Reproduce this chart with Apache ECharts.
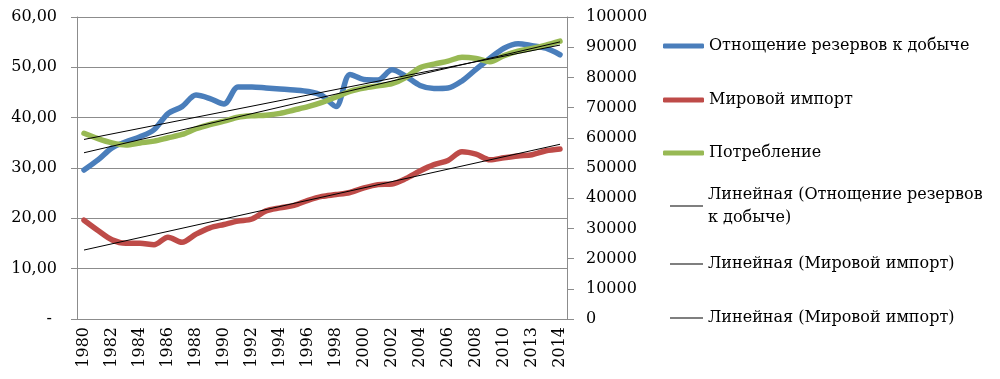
<!DOCTYPE html>
<html>
<head>
<meta charset="utf-8">
<script src="https://cdn.jsdelivr.net/npm/echarts@6/dist/echarts.min.js"></script>
<style>
html,body{margin:0;padding:0;background:#fff;}
#chart{width:1000px;height:379px;}
</style>
</head>
<body>
<div id="chart"></div>
<script>
// Categories (year labels as printed on the axis; every other one is shown)
const years = ["1980","1981","1982","1983","1984","1985","1986","1987","1988","1989",
  "1990","1991","1992","1993","1994","1995","1996","1997","1998","1999",
  "2000","2001","2002","2003","2004","2005","2006","2007","2008","2009",
  "2010","2011","2013","2013","2014"];

// Отнощение резервов к добыче (left axis, years)
const reservesRatio = [29.6,31.6,34.0,35.2,36.2,37.6,40.8,42.2,44.5,43.8,
  42.7,46.1,46.1,45.9,45.7,45.5,45.2,44.4,42.2,48.6,
  47.6,47.5,49.5,48.2,46.4,45.8,45.9,47.3,49.6,51.8,
  53.8,54.7,54.3,53.8,52.5];

// Мировой импорт (right axis)
const worldImport = [32700,29300,26200,25100,25100,24600,27100,25400,28100,30200,
  31300,32400,33100,35800,36800,37600,39300,40600,41200,41900,
  43400,44500,44700,46500,49000,51100,52500,55400,54600,52700,
  53400,54000,54400,55700,56300];

// Потребление (right axis)
const consumption = [61500,59700,58300,57600,58300,58900,60000,61100,63000,64400,
  65500,66800,67300,67500,68100,69200,70300,71700,73500,75400,
  76500,77200,77900,80000,83200,84400,85400,86700,86300,85200,
  87200,88700,89600,90700,92000];

const leftTicks = {min: 0, max: 60, step: 10};
const rightTicks = {min: 0, max: 100000, step: 10000};

const names = {
  blue: "Отнощение резервов к добыче",
  red: "Мировой импорт",
  green: "Потребление",
  tBlue: "Линейная (Отнощение резервов к добыче)",
  tRed: "Линейная (Мировой импорт)",
  tGreen: "Линейная (Мировой импорт) "
};

// Linear trend (least squares) as Excel's "Линейная" trendline
function linearTrend(arr) {
  const n = arr.length;
  let sx = 0, sy = 0, sxx = 0, sxy = 0;
  for (let i = 0; i < n; i++) { sx += i; sy += arr[i]; sxx += i * i; sxy += i * arr[i]; }
  const b = (n * sxy - sx * sy) / (n * sxx - sx * sx);
  const a = (sy - b * sx) / n;
  return arr.map((_, i) => a + b * i);
}

const FONT = "DejaVu Serif";
const GRAY = "#8c8c8c";

function mainLine(name, data, color, yAxisIndex) {
  return {
    name, type: "line", data, yAxisIndex, smooth: 0.3,
    symbol: "none", z: 2,
    lineStyle: {color, width: 5.5, cap: "round", join: "round"},
    itemStyle: {color}
  };
}
function trendLine(name, data, yAxisIndex) {
  return {
    name, type: "line", data: linearTrend(data), yAxisIndex,
    symbol: "none", z: 3, silent: true,
    lineStyle: {color: "#000", width: 1},
    itemStyle: {color: "#000"}
  };
}

const legendText = {fontFamily: FONT, fontSize: 16, color: "#000", lineHeight: 23};
function leg(name, cy, colored, twoLine) {
  const l = {
    data: [{name}],
    orient: "vertical",
    left: colored ? 663 : 670,
    top: twoLine ? cy - 34.5 : cy - 11.5,
    padding: 0,
    itemWidth: colored ? 41 : 33,
    itemHeight: colored ? 5 : 1,
    icon: colored ? "roundRect" : "rect",
    textStyle: Object.assign({}, legendText),
    selectedMode: false
  };
  if (twoLine) {
    l.formatter = () => "Линейная (Отнощение резервов\nк добыче)";
    l.textStyle.padding = [23, 0, 0, 0];
  }
  if (name === names.tGreen) {
    l.formatter = () => "Линейная (Мировой импорт)";
  }
  return l;
}

const option = {
  animation: false,
  backgroundColor: "#fff",
  grid: {left: 77, right: 433, top: 17, bottom: 60, containLabel: false},
  legend: [
    leg(names.blue, 46, true),
    leg(names.red, 100, true),
    leg(names.green, 153, true),
    leg(names.tBlue, 206, false, true),
    leg(names.tRed, 264, false),
    leg(names.tGreen, 318, false)
  ],
  xAxis: {
    type: "category",
    data: years,
    boundaryGap: true,
    axisLine: {show: true, lineStyle: {color: GRAY, width: 1}},
    axisTick: {show: false},
    axisLabel: {
      interval: 1, rotate: 90, margin: 8,
      fontFamily: FONT, fontSize: 16, color: "#000"
    },
    splitLine: {show: false}
  },
  yAxis: [
    {
      type: "value", min: leftTicks.min, max: leftTicks.max, interval: leftTicks.step,
      position: "left",
      axisLine: {show: true, lineStyle: {color: GRAY}},
      axisTick: {show: true, inside: false, length: 6, lineStyle: {color: GRAY}},
      splitLine: {show: true, lineStyle: {color: GRAY, width: 1}},
      axisLabel: {
        margin: 20, fontFamily: FONT, fontSize: 16, color: "#000",
        formatter: v => v === 0 ? "- " : v.toFixed(2).replace(".", ",")
      }
    },
    {
      type: "value", min: rightTicks.min, max: rightTicks.max, interval: rightTicks.step,
      position: "right",
      axisLine: {show: true, lineStyle: {color: GRAY}},
      axisTick: {show: true, inside: false, length: 7, lineStyle: {color: GRAY}},
      splitLine: {show: false},
      axisLabel: {
        margin: 19, fontFamily: FONT, fontSize: 16, color: "#000",
        formatter: v => String(Math.round(v))
      }
    }
  ],
  series: [
    mainLine(names.blue, reservesRatio, "#4A7EBB", 0),
    mainLine(names.red, worldImport, "#BE4B48", 1),
    mainLine(names.green, consumption, "#98B954", 1),
    trendLine(names.tBlue, reservesRatio, 0),
    trendLine(names.tRed, worldImport, 1),
    trendLine(names.tGreen, consumption, 1)
  ]
};

const chart = echarts.init(document.getElementById("chart"), null, {renderer: "canvas"});
chart.setOption(option);
</script>
</body>
</html>
